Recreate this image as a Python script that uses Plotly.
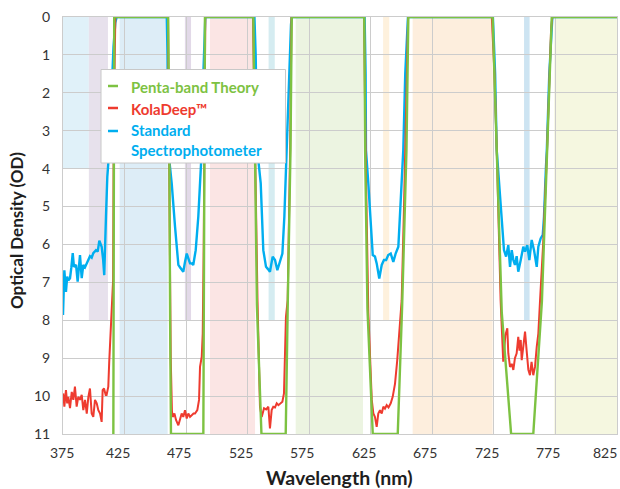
import plotly.graph_objects as go

# ---------------- data ----------------
# Penta-band theoretical optical density (OD) vs wavelength (nm)
theory_nm = [415.9, 416.6, 460.4, 461.3, 462.0, 462.7, 489.0, 489.6, 490.3,
             529.6, 531.0, 532.5, 536.2, 555.9, 557.6, 559.8, 560.8,
             619.7, 620.4, 622.3, 626.6, 646.9, 650.5, 654.0, 655.5,
             724.0, 727.3, 731.4, 739.0, 757.0, 764.0, 768.4, 772.0, 825.0]
theory_od = [11, 0, 0, 3, 8, 11, 11, 6, 0,
             0, 3.5, 7.6, 11, 11, 7.5, 3.5, 0,
             0, 3.5, 7.7, 11, 11, 7.6, 3.5, 0,
             0, 3.5, 7.8, 11, 11, 7.5, 3.5, 0, 0]

# KolaDeep measurement
kola_nm = [375.2, 376.1, 377.4, 378.4, 379.3, 380.7, 382.1, 383.4, 384.7, 386.1,
           387.4, 388.8, 390.2, 391.5, 392.9, 394.3, 395.6, 396.9, 398.3, 399.6,
           401.0, 402.4, 403.7, 405.1, 406.4, 407.2, 408.3, 409.7, 410.4, 411.8,
           412.5, 413.6, 414.9, 415.7, 416.2, 416.8, 417.5,
           460.3, 461.5, 462.5, 463.5, 464.1, 465.5, 466.8, 468.7, 470.0, 471.4,
           472.7, 474.1, 475.5, 476.8, 478.2, 479.6, 481.0, 482.2, 484.1, 485.5,
           486.3, 487.7, 488.5, 489.3, 490.0, 490.6,
           529.3, 531.0, 533.0, 535.0, 536.4, 538.3, 540.0, 541.8, 543.1, 544.5,
           545.8, 547.2, 548.6, 550.0, 551.4, 553.2, 554.5, 555.3, 556.1, 557.5,
           559.5, 560.6,
           619.5, 621.0, 623.0, 625.8, 627.1, 628.4, 629.8, 631.1, 632.5, 633.9,
           635.2, 636.5, 637.9, 639.4, 641.2, 642.8, 644.7, 646.5, 648.2, 650.1,
           652.0, 654.0, 655.3,
           723.3, 725.5, 727.3, 729.6, 730.5, 732.6, 734.3, 735.9, 736.7, 738.1,
           739.5, 740.8, 742.1, 743.5, 744.8, 745.8, 746.8, 747.6, 749.0, 750.3,
           751.6, 753.0, 754.3, 755.6, 757.0, 758.4, 759.8, 761.1, 762.5, 765.0,
           768.2, 771.5, 772.5, 825.0]
kola_od = [9.93, 10.28, 9.84, 10.19, 10.02, 10.32, 9.89, 10.10, 9.75, 10.28,
           10.02, 10.10, 9.97, 10.37, 10.10, 10.46, 10.02, 9.80, 10.46, 10.55,
           10.10, 10.19, 10.37, 10.46, 10.68, 9.84, 9.80, 9.97, 9.97, 9.75,
           9.13, 8.26, 7.38, 6.94, 3.0, 0.4, 0,
           0, 5.0, 9.0, 10.4, 10.55, 10.46, 10.63, 10.77, 10.60, 10.46,
           10.55, 10.37, 10.59, 10.46, 10.55, 10.50, 10.46, 10.46, 10.37, 10.10,
           9.23, 8.96, 8.35, 6.0, 1.0, 0,
           0, 3.5, 7.5, 10.28, 10.55, 10.32, 10.35, 10.28, 10.85, 10.37,
           10.28, 10.30, 10.19, 10.24, 10.19, 10.15, 9.93, 8.79, 7.91, 7.47,
           3.5, 0,
           0, 4.0, 7.8, 10.10, 10.46, 10.55, 10.81, 10.46, 10.37, 10.46,
           10.28, 10.33, 10.24, 10.30, 10.19, 10.02, 9.67, 9.05, 8.35, 7.47,
           5.0, 2.0, 0,
           0, 1.5, 3.5, 6.5, 7.5, 9.09, 8.40, 8.21, 8.87, 9.23,
           9.15, 9.31, 9.00, 8.87, 8.44, 8.80, 8.52, 9.05, 8.70, 8.30,
           8.80, 9.31, 9.45, 9.10, 9.45, 9.23, 8.70, 8.35, 7.47, 6.0,
           3.5, 0.3, 0, 0]

# Standard spectrophotometer measurement
spec_nm = [375.0, 375.4, 376.1, 377.4, 378.4, 379.3, 380.7, 381.8, 382.9, 383.9,
           385.6, 386.9, 388.8, 390.2, 391.5, 392.9, 394.3, 395.6, 396.9, 398.3,
           399.6, 401.8, 403.2, 404.5, 406.4, 407.6, 408.5, 409.9, 411.0, 412.6,
           414.5, 416.0, 417.5, 418.6,
           459.3, 459.9, 460.5, 463.3, 466.0, 468.7, 470.0, 471.4, 472.7, 474.1,
           475.5, 476.8, 478.2, 479.5, 480.8, 482.8, 484.9, 486.3, 487.7, 489.0,
           490.0, 490.6,
           530.5, 531.5, 532.8, 535.6, 537.7, 539.9, 541.5, 543.1, 545.3, 547.2,
           549.1, 551.3, 553.2, 554.8, 556.1, 556.6, 558.5, 560.2, 560.8,
           620.0, 620.8, 621.1, 623.0, 625.2, 626.6, 628.4, 629.8, 631.9, 633.9,
           635.7, 637.5, 639.2, 641.2, 643.3, 645.2, 647.4, 649.3, 651.4, 653.0,
           654.5, 655.2,
           724.2, 726.0, 727.3, 729.4, 731.4, 733.2, 734.9, 736.7, 738.1, 739.5,
           740.8, 742.1, 743.5, 744.8, 746.8, 748.9, 750.3, 752.1, 753.8, 755.7,
           757.6, 759.8, 761.1, 763.0, 764.7, 765.7, 767.3, 768.0, 770.0, 771.8,
           772.5, 825.0]
spec_od = [7.86, 7.20, 6.68, 7.25, 6.85, 6.95, 6.89, 6.60, 6.23, 6.59,
           6.54, 6.98, 6.28, 6.89, 6.54, 6.60, 6.50, 6.40, 6.31, 6.35,
           6.23, 6.15, 6.19, 5.90, 6.06, 6.40, 6.81, 5.27, 4.21, 3.51,
           2.0, 0.8, 0.15, 0,
           0, 1.0, 3.51, 4.39, 5.53, 6.54, 6.60, 6.68, 6.72, 6.46,
           6.24, 6.37, 6.50, 6.50, 6.54, 6.15, 5.27, 4.39, 3.51, 1.5,
           0.3, 0,
           0, 1.0, 3.51, 4.39, 6.15, 6.59, 6.65, 6.72, 6.32, 6.41,
           6.68, 6.41, 6.24, 5.27, 3.95, 3.51, 1.5, 0.2, 0,
           0, 1.5, 3.51, 4.39, 5.71, 6.28, 6.32, 6.50, 6.90, 6.54,
           6.41, 6.41, 6.28, 6.24, 6.46, 6.24, 6.06, 4.83, 3.51, 1.5,
           0.2, 0,
           0, 1.5, 3.51, 4.39, 5.27, 6.15, 6.32, 6.02, 6.59, 6.15,
           6.41, 6.54, 6.31, 6.72, 6.41, 6.06, 6.19, 6.02, 6.41, 5.88,
           6.15, 6.59, 6.06, 5.84, 5.75, 5.27, 3.95, 3.51, 1.5, 0.2,
           0, 0]

# shaded spectral bands: (start nm, end nm, OD depth, colour)
band_start = [375.0, 396.0, 421.0, 474.0, 494.4, 542.0, 564.0, 635.0, 659.0, 749.5, 774.0]
band_end   = [396.0, 411.5, 460.0, 479.0, 531.0, 547.0, 618.7, 640.0, 724.0, 754.0, 825.0]
band_depth = [4, 8, 11, 8, 11, 8, 11, 8, 11, 8, 11]
band_color = ["#e0f1f9", "#e7e1ec", "#ddedf7", "#e2d9e8", "#fbe5e4", "#d5ecf1",
              "#ecf4e1", "#fef1dd", "#fdeedd", "#cde4f2", "#f5f7e0"]

x_ticks = [375, 425, 475, 525, 575, 625, 675, 725, 775, 825]
x_tick_shift = [-1, -7, -7, -7, -7, -7, -7, -7, -7, -12]
y_ticks = list(range(0, 12))

legend_labels = ["Penta-band Theory", "KolaDeep™", "Standard<br>Spectrophotometer"]

GREEN = "#7dc242"
RED = "#ee3b2f"
BLUE = "#00aeef"
legend_colors = [GREEN, RED, BLUE]

# ---------------- figure ----------------
W, H = 620, 489
ML, MR, MT, MB = 63, 3, 17, 55
PW, PH = W - ML - MR, H - MT - MB


def px(x):
    return (x - ML) / PW


def py(y):
    return (H - MB - y) / PH


fig = go.Figure()

fig.add_trace(go.Scatter(x=spec_nm, y=spec_od, mode="lines",
                         line=dict(color=BLUE, width=2.4), name="Standard Spectrophotometer",
                         showlegend=False))
fig.add_trace(go.Scatter(x=kola_nm, y=kola_od, mode="lines",
                         line=dict(color=RED, width=2), name="KolaDeep™",
                         showlegend=False))
fig.add_trace(go.Scatter(x=theory_nm, y=theory_od, mode="lines",
                         line=dict(color=GREEN, width=2.4), name="Penta-band Theory",
                         showlegend=False))

shapes = []
for x0, x1, d, c in zip(band_start, band_end, band_depth, band_color):
    shapes.append(dict(type="rect", xref="x", yref="y", x0=x0, x1=x1, y0=0, y1=d,
                       fillcolor=c, line=dict(width=0), layer="below"))

# legend box with short line swatches
shapes.append(dict(type="rect", xref="paper", yref="paper",
                   x0=px(101), x1=px(285.5), y0=py(69.5), y1=py(163),
                   fillcolor="white", line=dict(color="#c8c8c8", width=1), layer="above"))
swatch_y = [86, 108, 131]
text_y = [87.5, 109.5, 139.5]
annotations = []
for label, color, sy, ty in zip(legend_labels, legend_colors, swatch_y, text_y):
    shapes.append(dict(type="line", xref="paper", yref="paper",
                       x0=px(108), x1=px(118), y0=py(sy), y1=py(sy),
                       line=dict(color=color, width=2.5), layer="above"))
    annotations.append(dict(text=f"<b>{label}</b>", xref="paper", yref="paper",
                            x=px(129), y=py(ty), xanchor="left", yanchor="middle",
                            align="left", showarrow=False,
                            font=dict(family="Lato", size=15, color=color)))

# wavelength tick labels (nudged left of their gridlines)
for v, s in zip(x_ticks, x_tick_shift):
    annotations.append(dict(text=str(v), xref="x", yref="paper", x=v, y=py(452),
                            xshift=s, xanchor="center", yanchor="middle",
                            showarrow=False,
                            font=dict(family="Lato", size=14, color="#333333")))

# axis titles
annotations.append(dict(text="<b>Wavelength (nm)</b>", xref="paper", yref="paper",
                        x=px(339), y=py(477), xanchor="center", yanchor="middle",
                        showarrow=False, font=dict(family="Lato", size=19.5, color="#1e1e1e")))
annotations.append(dict(text="<b>Optical Density (OD)</b>", xref="paper", yref="paper",
                        x=px(17), y=py(231), xanchor="center", yanchor="middle",
                        textangle=-90, showarrow=False,
                        font=dict(family="Lato", size=17, color="#1e1e1e")))

fig.update_layout(
    width=W, height=H,
    margin=dict(l=ML, r=MR, t=MT, b=MB, autoexpand=False),
    paper_bgcolor="white", plot_bgcolor="white",
    font=dict(family="Lato", size=14, color="#333333"),
    shapes=shapes, annotations=annotations,
    showlegend=False,
)
fig.update_xaxes(range=[375, 825], tickvals=x_ticks, showticklabels=False,
                 showgrid=True, gridcolor="#cccccc", gridwidth=1, zeroline=False,
                 showline=True, linecolor="#cccccc", linewidth=1, mirror=True,
                 ticks="", automargin=False)
fig.update_yaxes(range=[11, 0], tickvals=y_ticks,
                 showgrid=True, gridcolor="#cccccc", gridwidth=1, zeroline=False,
                 showline=True, linecolor="#cccccc", linewidth=1, mirror=True,
                 ticks="", ticklabelstandoff=9, automargin=False,
                 tickfont=dict(family="Lato", size=14, color="#333333"))

fig.write_html("out.html")
